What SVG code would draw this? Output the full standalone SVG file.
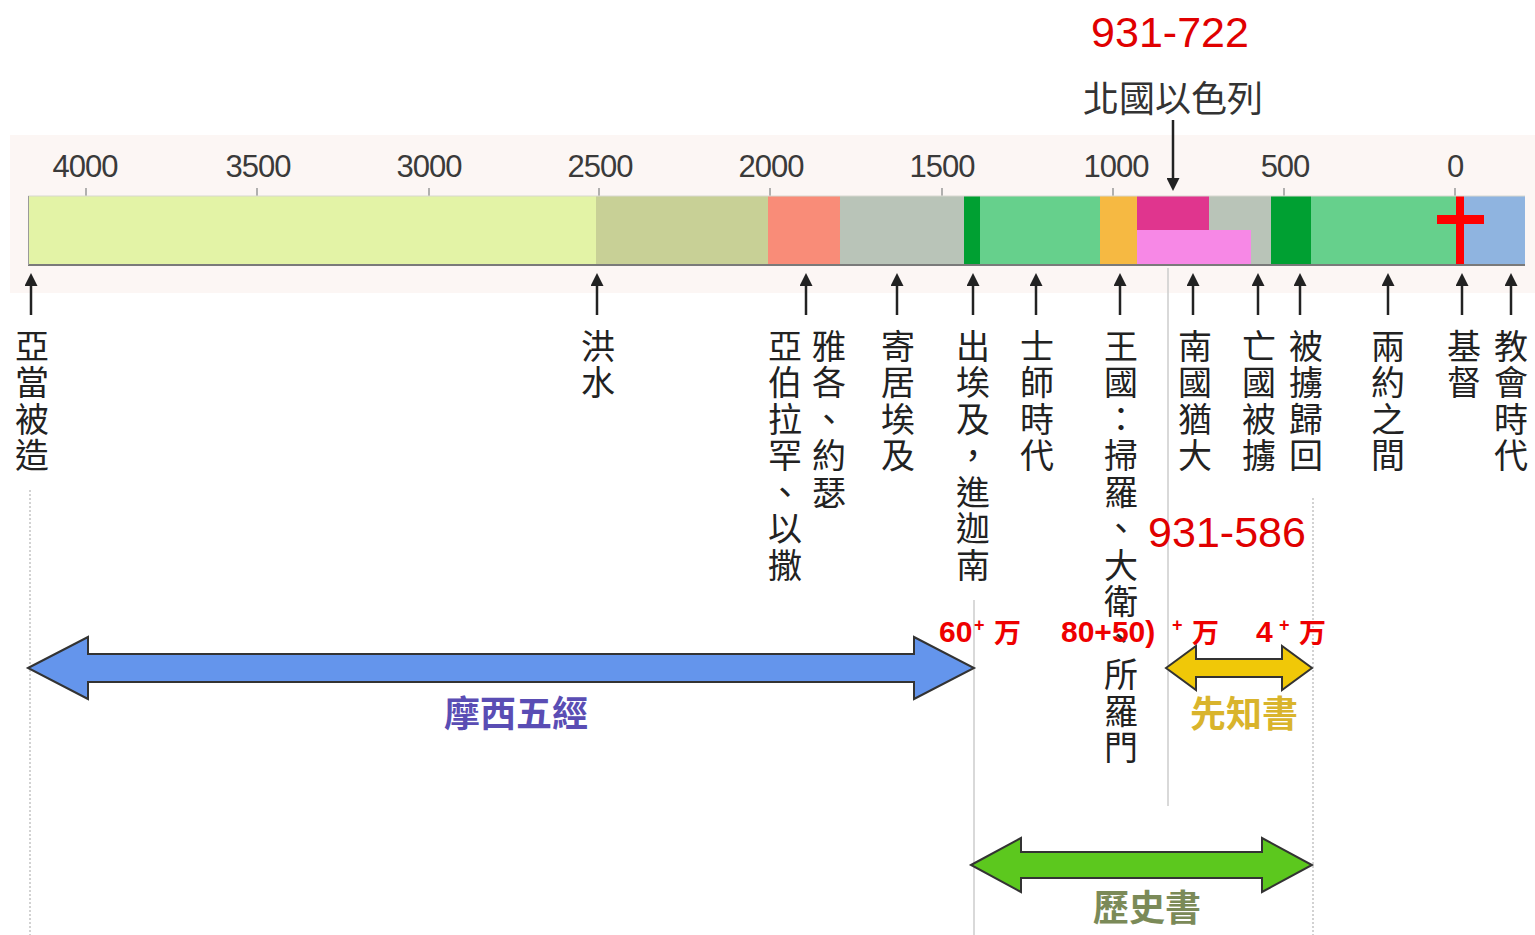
<svg xmlns="http://www.w3.org/2000/svg" width="1535" height="935" viewBox="0 0 1535 935">
<defs>
<style>
.tick{font-family:"Liberation Sans",Arial,sans-serif;font-size:31px;fill:#3a3a3a;text-anchor:middle;letter-spacing:-1px}
.vl{font-family:"Noto Sans CJK TC","Noto Sans CJK SC",sans-serif;font-size:34px;fill:#222;writing-mode:vertical-rl;letter-spacing:2.5px}
.red{font-family:"Liberation Sans",Arial,sans-serif;font-size:43px;fill:#e00000;text-anchor:middle}
.redb{font-family:"Liberation Sans",Arial,sans-serif;font-size:30px;font-weight:bold;fill:#ee0000}
.sup{font-family:"Liberation Sans",Arial,sans-serif;font-size:18px;font-weight:bold;fill:#ee0000}
.wan{font-family:"Noto Sans CJK SC","Noto Sans CJK TC",sans-serif;font-size:27px;font-weight:bold;fill:#ee0000}
.cn{font-family:"Noto Sans CJK TC","Noto Sans CJK SC",sans-serif;text-anchor:middle}
.conn{stroke:#222;stroke-width:2.5;fill:none}
.guide{stroke:#cccccc;stroke-width:1.5}
.dot{stroke:#c4c4c4;stroke-width:1.5;stroke-dasharray:2 2}
.big{stroke:#333;stroke-width:2;stroke-linejoin:miter}
.tk{stroke:#999;stroke-width:1.5}
</style>
<marker id="ah" viewBox="0 0 10 10" refX="0" refY="5" markerWidth="16" markerHeight="13" orient="auto" markerUnits="userSpaceOnUse">
<path d="M0,0 L10,5 L0,10 z" fill="#222"/>
</marker>
</defs>
<rect width="1535" height="935" fill="#ffffff"/>
<rect x="10" y="135" width="1525" height="158" fill="#fcf6f4"/>

<g id="guides">
<line class="dot" x1="30" y1="490" x2="30" y2="935"/>
<line class="guide" x1="974" y1="600" x2="974" y2="935"/>
<line class="guide" x1="1168" y1="268" x2="1168" y2="806"/>
<line class="dot" x1="1313" y1="498" x2="1313" y2="935"/>
</g>

<g id="axis">
<text class="tick" x="85" y="177">4000</text>
<text class="tick" x="258" y="177">3500</text>
<text class="tick" x="429" y="177">3000</text>
<text class="tick" x="600" y="177">2500</text>
<text class="tick" x="771" y="177">2000</text>
<text class="tick" x="942" y="177">1500</text>
<text class="tick" x="1116" y="177">1000</text>
<text class="tick" x="1285" y="177">500</text>
<text class="tick" x="1455" y="177">0</text>
<line class="tk" x1="86" y1="188" x2="86" y2="196"/>
<line class="tk" x1="257" y1="188" x2="257" y2="196"/>
<line class="tk" x1="429" y1="188" x2="429" y2="196"/>
<line class="tk" x1="599" y1="188" x2="599" y2="196"/>
<line class="tk" x1="770" y1="188" x2="770" y2="196"/>
<line class="tk" x1="942" y1="188" x2="942" y2="196"/>
<line class="tk" x1="1113" y1="188" x2="1113" y2="196"/>
<line class="tk" x1="1284" y1="188" x2="1284" y2="196"/>
<line class="tk" x1="1455" y1="188" x2="1455" y2="196"/>
</g>

<g id="bar">
<rect x="28" y="196" width="568" height="69" fill="#e3f3a6"/>
<rect x="596" y="196" width="172" height="69" fill="#c8d096"/>
<rect x="768" y="196" width="72" height="69" fill="#f98c78"/>
<rect x="840" y="196" width="124" height="69" fill="#b9c4b8"/>
<rect x="964" y="196" width="16" height="69" fill="#00a032"/>
<rect x="980" y="196" width="120" height="69" fill="#66d08c"/>
<rect x="1100" y="196" width="37" height="69" fill="#f6b942"/>
<rect x="1137" y="196" width="134" height="69" fill="#b9c4b8"/>
<rect x="1137" y="196" width="72" height="34" fill="#e0358e"/>
<rect x="1137" y="230" width="114" height="35" fill="#f788e6"/>
<rect x="1271" y="196" width="40" height="69" fill="#00a032"/>
<rect x="1311" y="196" width="145" height="69" fill="#66d08c"/>
<rect x="1464" y="196" width="61" height="69" fill="#8fb4e0"/>
<rect x="1456" y="196" width="8" height="69" fill="#ff0000"/>
<rect x="1437" y="215" width="47" height="9" fill="#ff0000"/>
<line x1="28" y1="196" x2="1525" y2="196" stroke="#d8d8d0" stroke-width="1"/>
<line x1="28" y1="265" x2="1525" y2="265" stroke="#7a7a7a" stroke-width="2"/>
<line x1="28.5" y1="196" x2="28.5" y2="265" stroke="#9a9a9a" stroke-width="1"/>
</g>

<g id="connectors">
<line class="conn" x1="1173" y1="120" x2="1173" y2="178" marker-end="url(#ah)"/>
<line class="conn" x1="31" y1="315" x2="31" y2="286" marker-end="url(#ah)"/>
<line class="conn" x1="597" y1="315" x2="597" y2="286" marker-end="url(#ah)"/>
<line class="conn" x1="806" y1="315" x2="806" y2="286" marker-end="url(#ah)"/>
<line class="conn" x1="897" y1="315" x2="897" y2="286" marker-end="url(#ah)"/>
<line class="conn" x1="973" y1="315" x2="973" y2="286" marker-end="url(#ah)"/>
<line class="conn" x1="1036" y1="315" x2="1036" y2="286" marker-end="url(#ah)"/>
<line class="conn" x1="1120" y1="315" x2="1120" y2="286" marker-end="url(#ah)"/>
<line class="conn" x1="1193" y1="315" x2="1193" y2="286" marker-end="url(#ah)"/>
<line class="conn" x1="1258" y1="315" x2="1258" y2="286" marker-end="url(#ah)"/>
<line class="conn" x1="1300" y1="315" x2="1300" y2="286" marker-end="url(#ah)"/>
<line class="conn" x1="1388" y1="315" x2="1388" y2="286" marker-end="url(#ah)"/>
<line class="conn" x1="1462" y1="315" x2="1462" y2="286" marker-end="url(#ah)"/>
<line class="conn" x1="1511" y1="315" x2="1511" y2="286" marker-end="url(#ah)"/>
</g>

<g id="north-label">
<text class="red" x="1170" y="47">931-722</text>
<text class="cn" x="1173" y="112" font-size="36" fill="#333">北國以色列</text>
</g>

<g id="labels">
<g id="n-adam"><text class="vl" x="32" y="329">亞當被造</text></g>
<g id="n-flood"><text class="vl" x="598" y="329">洪水</text></g>
<g id="n-abraham"><text class="vl" x="785" y="329">亞伯拉罕、以撒</text></g>
<g id="n-jacob"><text class="vl" x="829" y="329">雅各、約瑟</text></g>
<g id="n-egypt"><text class="vl" x="898" y="329">寄居埃及</text></g>
<g id="n-exodus"><text class="vl" x="973" y="329">出埃及，進迦南</text></g>
<g id="n-judges"><text class="vl" x="1037" y="329">士師時代</text></g>
<g id="n-kingdom"><text class="vl" x="1121" y="329">王國：掃羅、大衛、所羅門</text></g>
<g id="n-judah"><text class="vl" x="1195" y="329">南國猶大</text></g>
<g id="n-exile"><text class="vl" x="1259" y="329">亡國被擄</text></g>
<g id="n-return"><text class="vl" x="1306" y="329">被擄歸回</text></g>
<g id="n-between"><text class="vl" x="1388" y="329">兩約之間</text></g>
<g id="n-christ"><text class="vl" x="1464" y="329">基督</text></g>
<g id="n-church"><text class="vl" x="1511" y="329">教會時代</text></g>
</g>

<g id="south-label">
<text class="red" x="1227" y="547">931-586</text>
</g>

<g id="counts">
<text class="redb" x="939" y="642">60</text>
<text class="sup" x="974" y="631">+</text>
<text class="wan" x="994" y="643">万</text>
<text class="redb" x="1061" y="642">80+50)</text>
<text class="sup" x="1172" y="631">+</text>
<text class="wan" x="1192" y="643">万</text>
<text class="redb" x="1256" y="642">4</text>
<text class="sup" x="1279" y="631">+</text>
<text class="wan" x="1299" y="643">万</text>
</g>

<g id="moses">
<polygon class="big" fill="#6495ec" points="28,668 88,637 88,654 914,654 914,637 974,668 914,699 914,682 88,682 88,699"/>
<text class="cn" x="516" y="727" font-size="36" font-weight="bold" fill="#5a4db4">摩西五經</text>
</g>

<g id="prophets">
<polygon class="big" fill="#f0c808" points="1166,668 1196,646 1196,659 1282,659 1282,646 1312,668 1282,690 1282,677 1196,677 1196,690"/>
<text class="cn" x="1244" y="727" font-size="36" font-weight="bold" fill="#d9b42c">先知書</text>
</g>

<g id="history">
<polygon class="big" fill="#5cc81e" points="971,865 1021,838 1021,852 1262,852 1262,838 1312,865 1262,892 1262,878 1021,878 1021,892"/>
<text class="cn" x="1147" y="921" font-size="36" font-weight="bold" fill="#7b8a58">歷史書</text>
</g>
</svg>
